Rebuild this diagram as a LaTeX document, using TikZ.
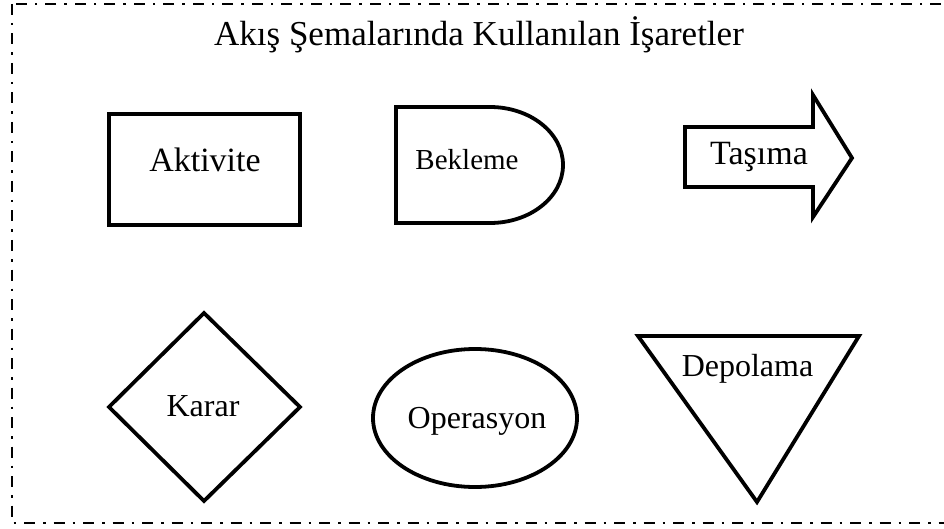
\documentclass[tikz,border=0pt]{standalone}
\usepackage{fontspec}
\setmainfont{Liberation Serif}
\begin{document}
\begin{tikzpicture}[x=1pt,y=-1pt,
  symbol/.style={draw=black,line width=3.8pt,line join=miter},
  frame/.style={draw=black,line width=2pt,dash pattern=on 11pt off 8pt on 2.5pt off 8pt},
  label/.style={anchor=base,inner sep=0pt,text=black}]
\useasboundingbox (0,0) rectangle (944,529);
\clip (0,0) rectangle (944,529);
% dash-dotted outer frame
\draw[frame] (12,4) rectangle (990,523);
% title
\node[label,font=\fontsize{35}{41}\selectfont] (title) at (479,46)
  {Akış Şemalarında Kullanılan İşaretler};
% activity: rectangle
\draw[symbol] (108.7,113.7) rectangle (300,225);
\node[label,font=\fontsize{34}{40}\selectfont] (aktivite) at (205,172) {Aktivite};
% delay: D-shape
\draw[symbol] (490,107) -- (396,107) -- (396,223) -- (490,223)
  arc[start angle=90,end angle=-90,x radius=73,y radius=58] -- cycle;
\node[label,font=\fontsize{29}{34}\selectfont] (bekleme) at (467,170) {Bekleme};
% transport: block arrow
\draw[symbol] (685,127) -- (813,127) -- (813,95) -- (852,158) -- (813,217)
  -- (813,187) -- (685,187) -- cycle;
\node[label,font=\fontsize{34}{40}\selectfont] (tasima) at (759,165) {Taşıma};
% decision: diamond
\draw[symbol] (204,313) -- (300,407) -- (204,501) -- (109,407) -- cycle;
\node[label,font=\fontsize{32}{38}\selectfont] (karar) at (203,416) {Karar};
% operation: ellipse
\draw[symbol] (475,418) ellipse[x radius=102,y radius=69];
\node[label,font=\fontsize{32}{38}\selectfont] (operasyon) at (477,428) {Operasyon};
% storage: inverted triangle
\draw[symbol] (638,336) -- (859,336) -- (757,502) -- cycle;
\node[label,font=\fontsize{32}{38}\selectfont] (depolama) at (747.5,376) {Depolama};
\end{tikzpicture}
\end{document}
